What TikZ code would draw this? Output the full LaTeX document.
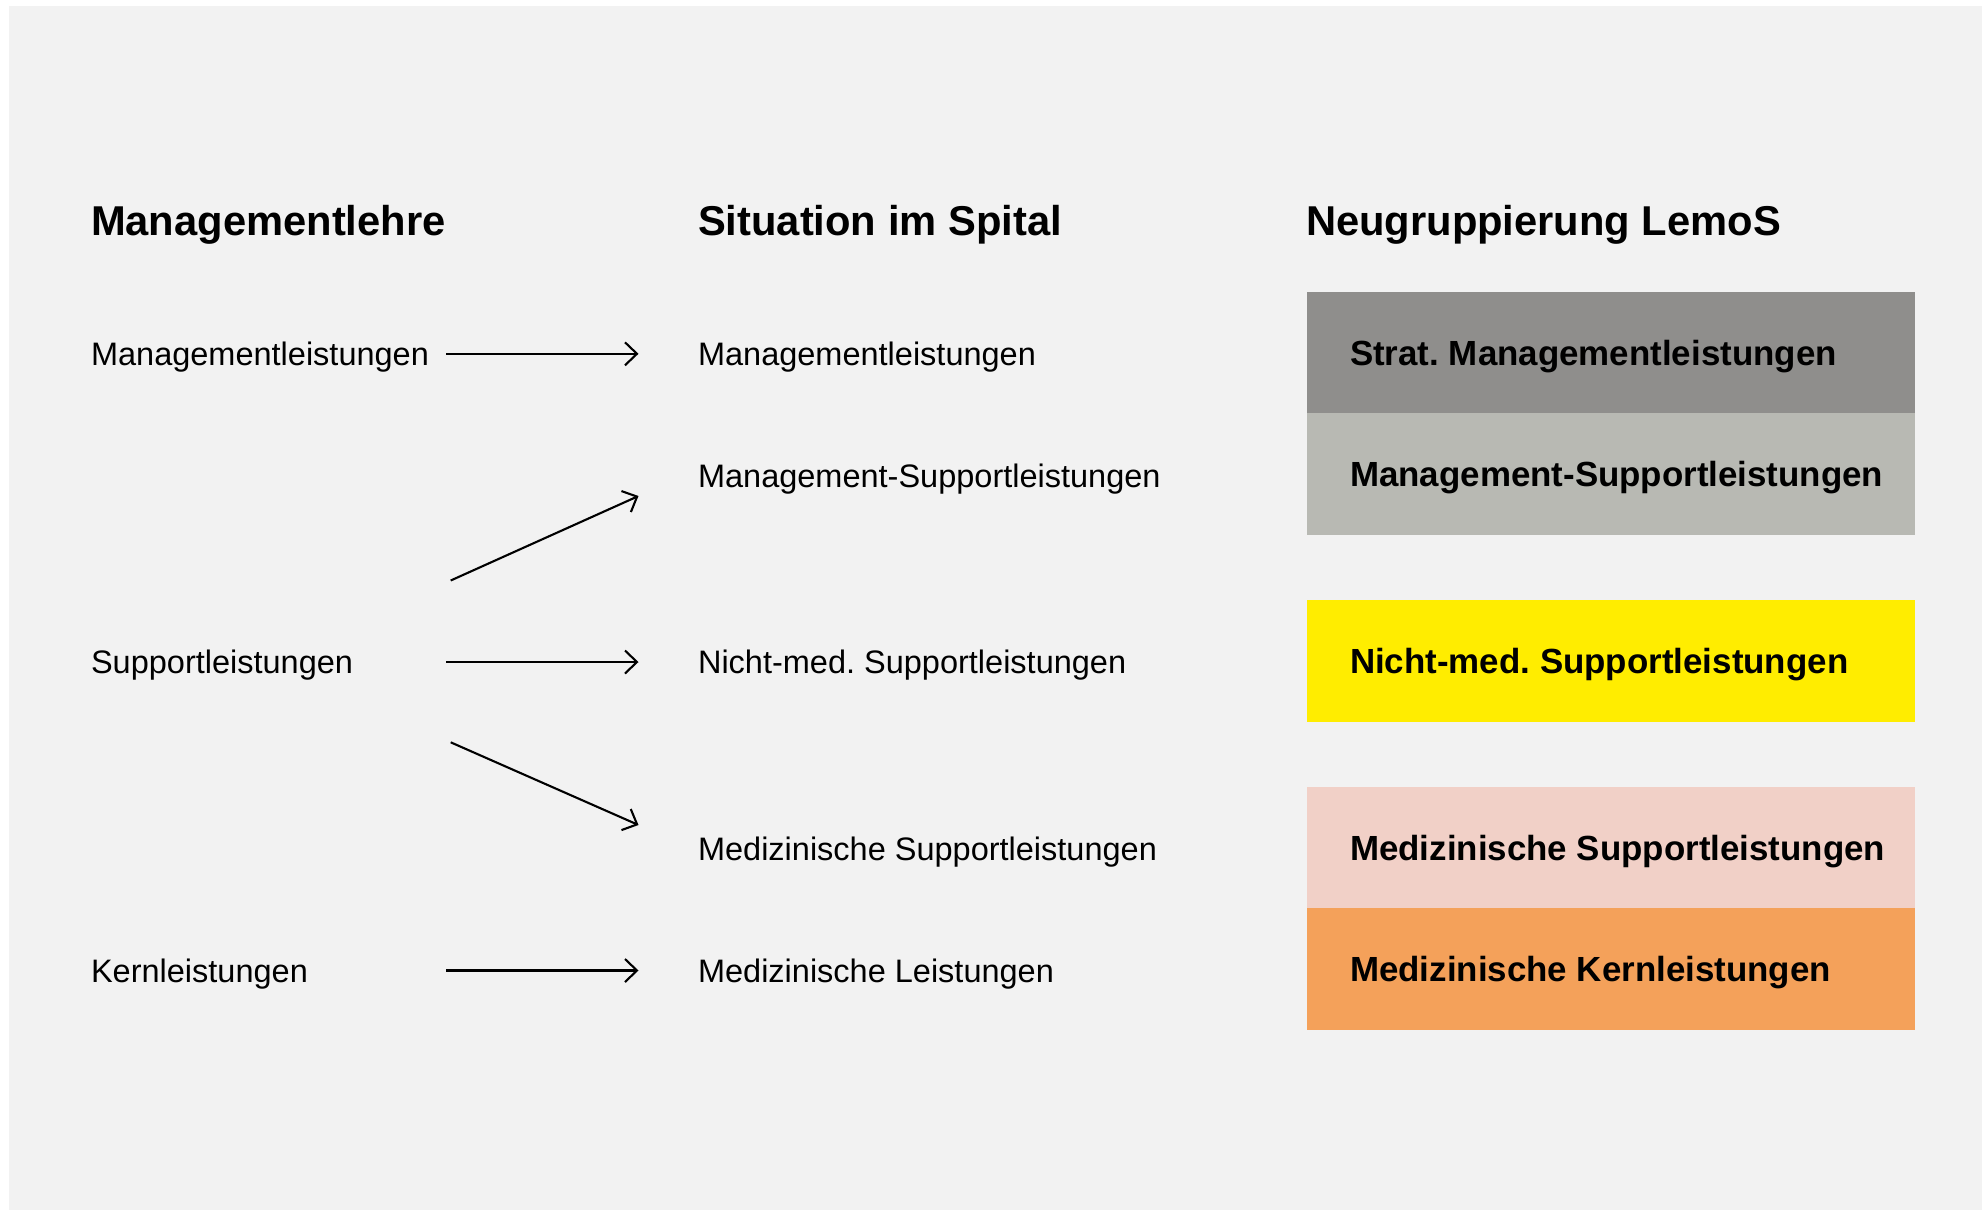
\documentclass[tikz,border=0pt]{standalone}
\usepackage{fontspec}
\setmainfont{Liberation Sans}
\usepackage{tikz}
\usetikzlibrary{arrows.meta,positioning}
\definecolor{bggray}{HTML}{F2F2F2}
\definecolor{stratgray}{HTML}{8F8E8C}
\definecolor{supgray}{HTML}{B8B9B3}
\definecolor{nmyellow}{HTML}{FFED00}
\definecolor{medrose}{HTML}{F1D0C7}
\definecolor{kernorange}{HTML}{F4A15A}
\frenchspacing
\tikzset{every node/.style={inner sep=0pt, anchor=west},
         head/.style={font=\fontsize{41.7}{48}\selectfont\bfseries, text height=29.8pt, text depth=0pt},
         item/.style={font=\fontsize{32.5}{38}\selectfont, text height=23.3pt, text depth=0pt},
         band/.style={rectangle, minimum width=607.5pt, minimum height=121.7pt},
         bandtext/.style={font=\fontsize{34.9}{42}\selectfont\bfseries, text height=25pt, text depth=0pt}}

\begin{document}
\begin{tikzpicture}[x=1pt, y=-1pt, line width=2.1pt, >={Straight Barb[length=12pt,width=23pt]}]
    %Page and background
    \useasboundingbox (0,0) rectangle (1988,1211);
    \fill[bggray] (9,6) rectangle (1982,1210);
    %Headings
    \node[head] (hLehre) at (90,221) {Managementlehre};
    \node[head] (hSpital) at (697,221) {Situation im Spital};
    \node[head] (hLemoS) at (1305,221) {Neugruppierung LemoS};
    %Managementlehre
    \node[item] (lMan) at (90,353.8) {Managementleistungen};
    \node[item] (lSup) at (90,662) {Supportleistungen};
    \node[item] (lKern) at (90,970.5) {Kernleistungen};
    %Situation im Spital
    \node[item] (sMan) at (697,353.8) {Managementleistungen};
    \node[item] (sManSup) at (697,475.5) {Management-Supportleistungen};
    \node[item] (sNonMed) at (697,662) {Nicht-med. Supportleistungen};
    \node[item] (sMedSup) at (697,849) {Medizinische Supportleistungen};
    \node[item] (sMed) at (697,970.5) {Medizinische Leistungen};
    %Neugruppierung LemoS (coloured bands)
    \foreach \name/\y/\col/\txt in {nStrat/352.5/stratgray/Strat. Managementleistungen,
                                   nManSup/474.2/supgray/Management-Supportleistungen,
                                   nNonMed/661.3/nmyellow/Nicht-med. Supportleistungen,
                                   nMedSup/847.7/medrose/Medizinische Supportleistungen,
                                   nKern/969.2/kernorange/Medizinische Kernleistungen}
      \node[band, fill=\col] (\name) at (1306,\y) {}
        node[bandtext, right=43pt of \name.west] {\txt};
    %Arrows
    \coordinate (aMan) at (446,353.8);
    \coordinate (aSup) at (446,662);
    \coordinate (aKern) at (446,970.5);
    \coordinate (aUp) at (450.7,580.5);
    \coordinate (bUp) at (638.5,496);
    \coordinate (aDown) at (450.7,742.3);
    \coordinate (bDown) at (638.5,825);
    \draw[->, shorten >=58.5pt] (aMan) -- (aMan -| sMan.west);
    \draw[->, shorten >=58.5pt] (aSup) -- (aSup -| sNonMed.west);
    \draw[->, shorten >=58.5pt] (aKern) -- (aKern -| sMed.west);
    \draw[->] (aUp) -- (bUp);
    \draw[->] (aDown) -- (bDown);
\end{tikzpicture}
\end{document}
